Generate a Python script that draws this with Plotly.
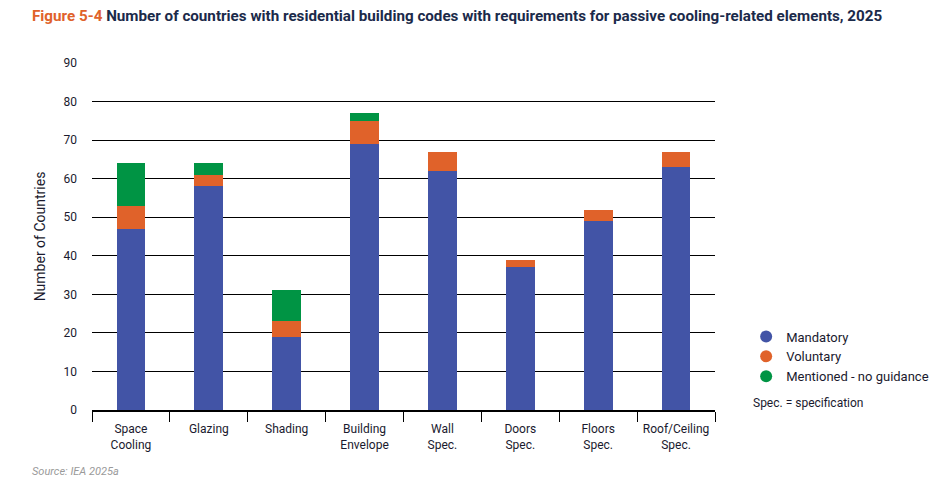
import plotly.graph_objects as go

categories = ["Space<br>Cooling", "Glazing", "Shading", "Building<br>Envelope", "Wall<br>Spec.",
              "Doors<br>Spec.", "Floors<br>Spec.", "Roof/Ceiling<br>Spec."]
mandatory = [47, 58, 19, 69, 62, 37, 49, 63]
voluntary = [6, 3, 4, 6, 5, 2, 3, 4]
mentioned = [11, 3, 8, 2, 0, 0, 0, 0]
series_names = ["Mandatory", "Voluntary", "Mentioned - no guidance"]
colors = ["#4254A6", "#E0622A", "#009444"]
y_ticks = [0, 10, 20, 30, 40, 50, 60, 70, 80, 90]

fig = go.Figure()
for name, vals, col in zip(series_names, [mandatory, voluntary, mentioned], colors):
    fig.add_trace(go.Bar(x=categories, y=vals, name=name, marker=dict(color=col, line=dict(width=0)),
                         showlegend=False))
for name, col in zip(series_names, colors):
    fig.add_trace(go.Scatter(x=[None], y=[None], mode="markers", name=name,
                             marker=dict(symbol="circle", size=17, color=col)))

dark = "#1a1a2e"
fig.update_layout(
    width=946, height=491,
    barmode="stack", bargap=0.63,
    plot_bgcolor="white", paper_bgcolor="white",
    margin=dict(l=92, r=228, t=63, b=81),
    font=dict(family="Roboto", color=dark, size=12),
    showlegend=True,
    legend=dict(x=1.05, y=0.255, xanchor="left", yanchor="top", font=dict(size=13, color=dark),
                itemsizing="constant", tracegroupgap=0, traceorder="normal", bgcolor="rgba(0,0,0,0)"),
    xaxis=dict(showline=True, linecolor="black", linewidth=1.5, ticks="outside", tickson="boundaries",
               ticklen=10, tickcolor="black", tickwidth=1.2, showgrid=False, ticklabelstandoff=7,
               tickfont=dict(size=12, color=dark, family="Roboto")),
    yaxis=dict(range=[0, 90], tickvals=y_ticks, showgrid=True, gridcolor="black", gridwidth=1,
               zeroline=False, showline=False, ticks="", ticklabelstandoff=14,
               tickfont=dict(size=12, color=dark),
               title=dict(text="Number of Countries", font=dict(size=14, color=dark), standoff=14)),
)

fig.add_annotation(xref="paper", yref="paper", x=-0.1, y=1.135, xanchor="left", yanchor="middle",
                   showarrow=False,
                   text="<b><span style='color:#E0622A'>Figure 5-4</span> Number of countries with residential building codes with requirements for passive cooling-related elements, 2025</b>",
                   font=dict(size=15.2, color="#1B2A4A", family="Roboto"))
fig.add_annotation(xref="paper", yref="paper", x=1.057, y=0.02, xanchor="left", yanchor="middle",
                   showarrow=False, text="Spec. = specification", font=dict(size=12, color=dark))
fig.add_annotation(xref="paper", yref="paper", x=-0.1, y=-0.178, xanchor="left", yanchor="middle",
                   showarrow=False, text="<i>Source: IEA 2025a</i>", font=dict(size=11, color="#9a9a9a"))

fig.write_html("out.html", config={"displayModeBar": False},
               post_script="document.body.style.margin='0px';")
